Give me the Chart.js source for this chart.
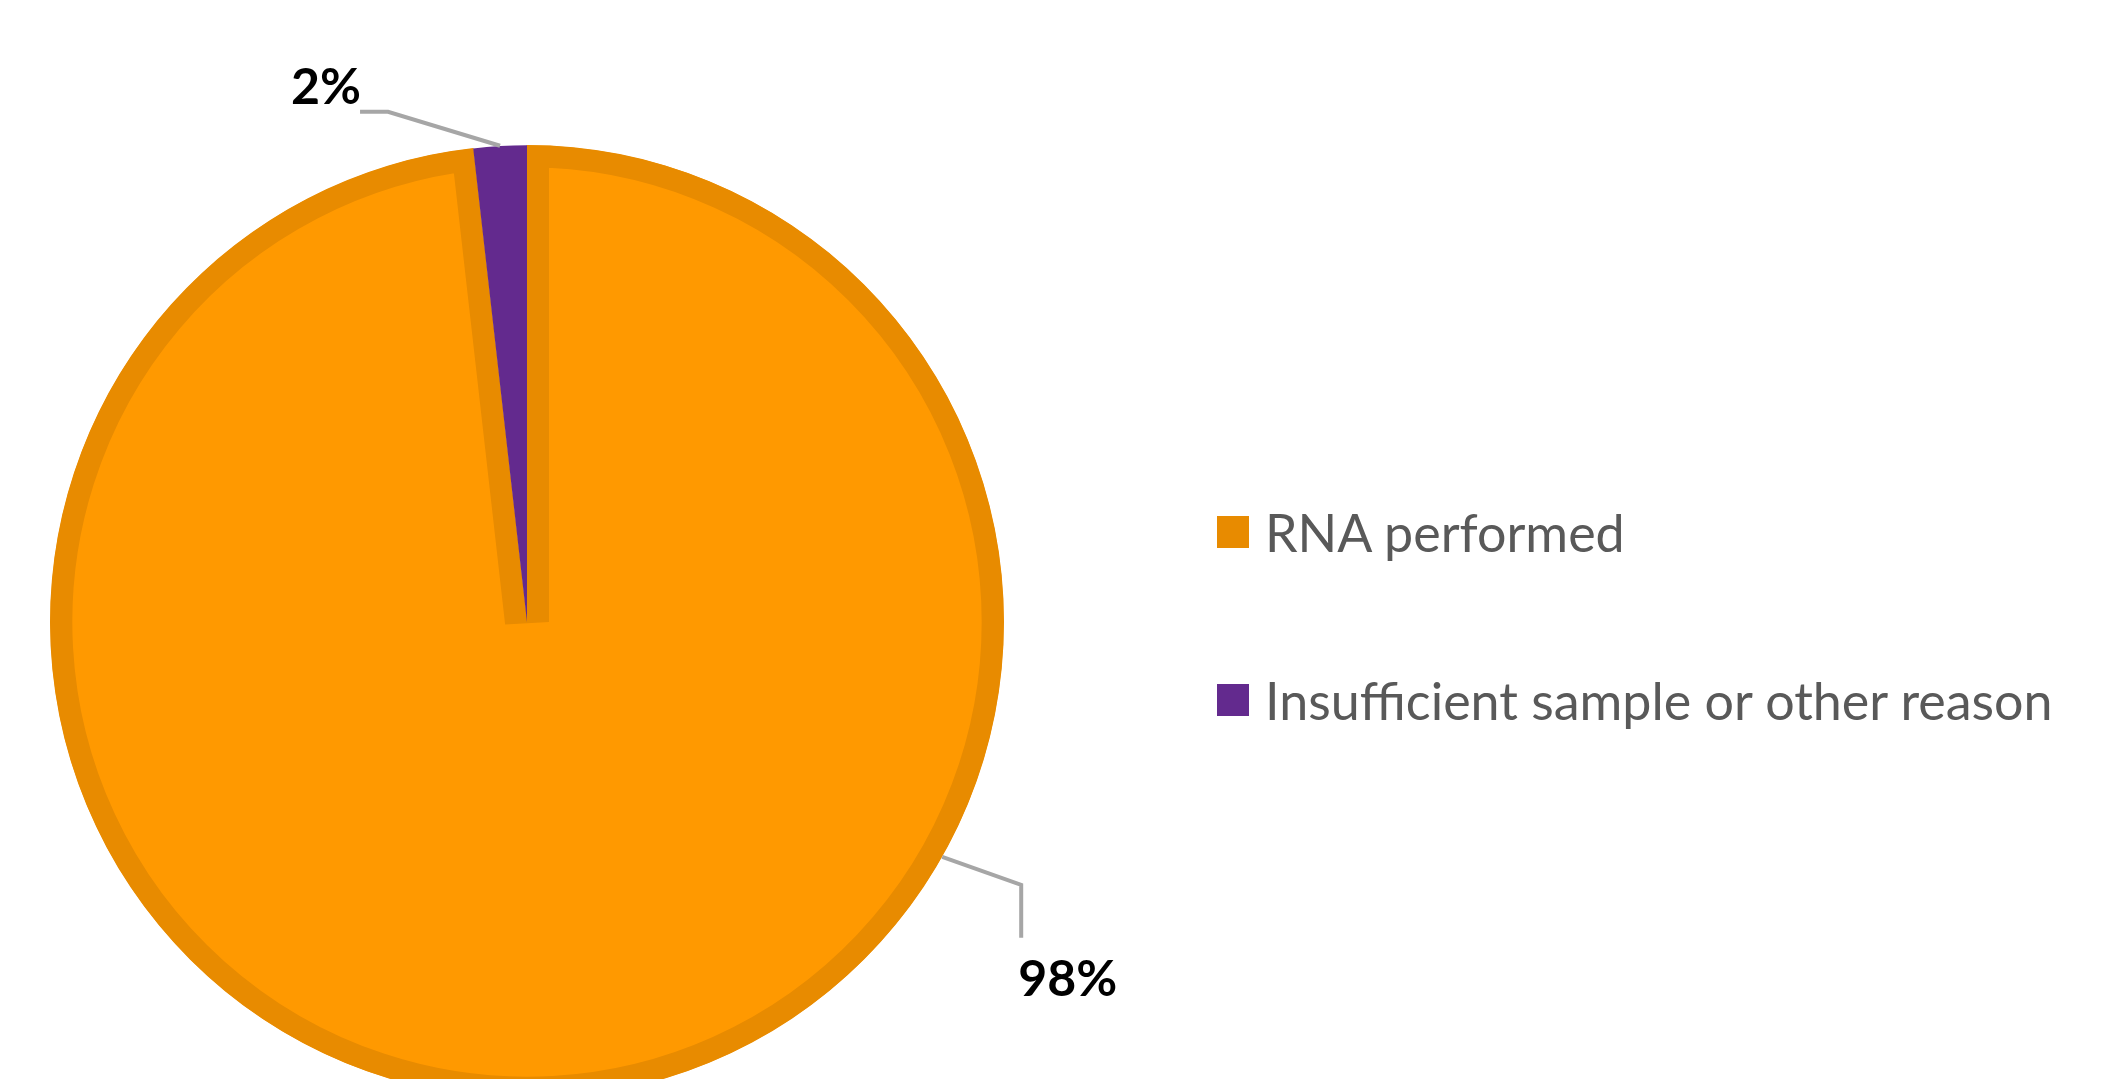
<!DOCTYPE html>
<html>
<head>
<meta charset="utf-8">
<script src="https://cdn.jsdelivr.net/npm/chart.js@4"></script>
<style>
html, body { margin: 0; padding: 0; background: #fff; overflow: hidden; }
.wrap { position: relative; width: 2114px; height: 1244px; }
.legend { position: absolute; left: 1217px; top: 0; font-family: Lato, sans-serif; font-size: 52px; color: #595959; }
.legendItem { position: absolute; left: 0; height: 60px; display: flex; align-items: center; white-space: nowrap; }
.legendBox { width: 32px; height: 32px; margin-right: 16px; flex: none; }
</style>
</head>
<body>
<div class="wrap">
	<canvas id="pie-chart"></canvas>
	<div class="legend"></div>
</div>
<script>
'use strict'

//categories
const categories = ['RNA performed', 'Insufficient sample or other reason'];
//share of samples (%)
const shares = [98.2, 1.8];
//slice colours
const fillColors = ['#FF9900', '#632A8E'];
const borderColors = ['#E88B00', '#632A8E'];
const legendColors = ['#E88B00', '#632A8E'];

// =====================================================================================================

//data labels with leader lines
const labelSets = [
	{ at: 0.338, elbow: [79, 28], end: [0, 53], text: [-3, 58], align: 'left' },
	{ at: 0.5, elbow: [-112, -34], end: [-28, 0], text: [1, -8], align: 'right' }
];

const pieLabels = {
	id: 'pieLabels',
	afterDatasetsDraw(chart) {
		const ctx = chart.ctx;
		const arcs = chart.getDatasetMeta(0).data;
		arcs.forEach((arc, i) => {
			const set = labelSets[i];
			const angle = arc.startAngle + (arc.endAngle - arc.startAngle) * set.at;
			const x0 = arc.x + Math.cos(angle) * arc.outerRadius;
			const y0 = arc.y + Math.sin(angle) * arc.outerRadius;
			const x1 = x0 + set.elbow[0];
			const y1 = y0 + set.elbow[1];
			const x2 = x1 + set.end[0];
			const y2 = y1 + set.end[1];

			ctx.save();
			ctx.strokeStyle = '#A6A6A6';
			ctx.lineWidth = 4;
			ctx.beginPath();
			ctx.moveTo(x0, y0);
			ctx.lineTo(x1, y1);
			ctx.lineTo(x2, y2);
			ctx.stroke();

			ctx.fillStyle = '#000';
			ctx.font = 'bold 50px Lato, sans-serif';
			ctx.textAlign = set.align;
			ctx.textBaseline = 'alphabetic';
			ctx.fillText(Math.round(shares[i]) + '%', x2 + set.text[0], y2 + set.text[1]);
			ctx.restore();
		});
	}
};

new Chart(document.getElementById('pie-chart'), {
	type: 'pie',
	data: {
		labels: categories,
		datasets: [{
			data: shares,
			backgroundColor: fillColors,
			borderColor: borderColors,
			borderWidth: [22, 0],
			borderAlign: 'inner',
			borderJoinStyle: 'miter',
			radius: 477
		}]
	},
	options: {
		responsive: true,
		maintainAspectRatio: false,
		animation: false,
		events: [],
		layout: { padding: { left: 0, top: 0, right: 1060, bottom: 0 } },
		plugins: {
			legend: { display: false },
			tooltip: { enabled: false }
		}
	},
	plugins: [pieLabels]
});

//legend
const legend = document.querySelector('.legend');
const legendTops = [502, 670];
categories.forEach((name, i) => {
	const item = document.createElement('div');
	item.className = 'legendItem';
	item.style.top = legendTops[i] + 'px';
	item.innerHTML = '<span class="legendBox" style="background:' + legendColors[i] + '"></span><span>' + name + '</span>';
	legend.appendChild(item);
});
</script>
</body>
</html>
